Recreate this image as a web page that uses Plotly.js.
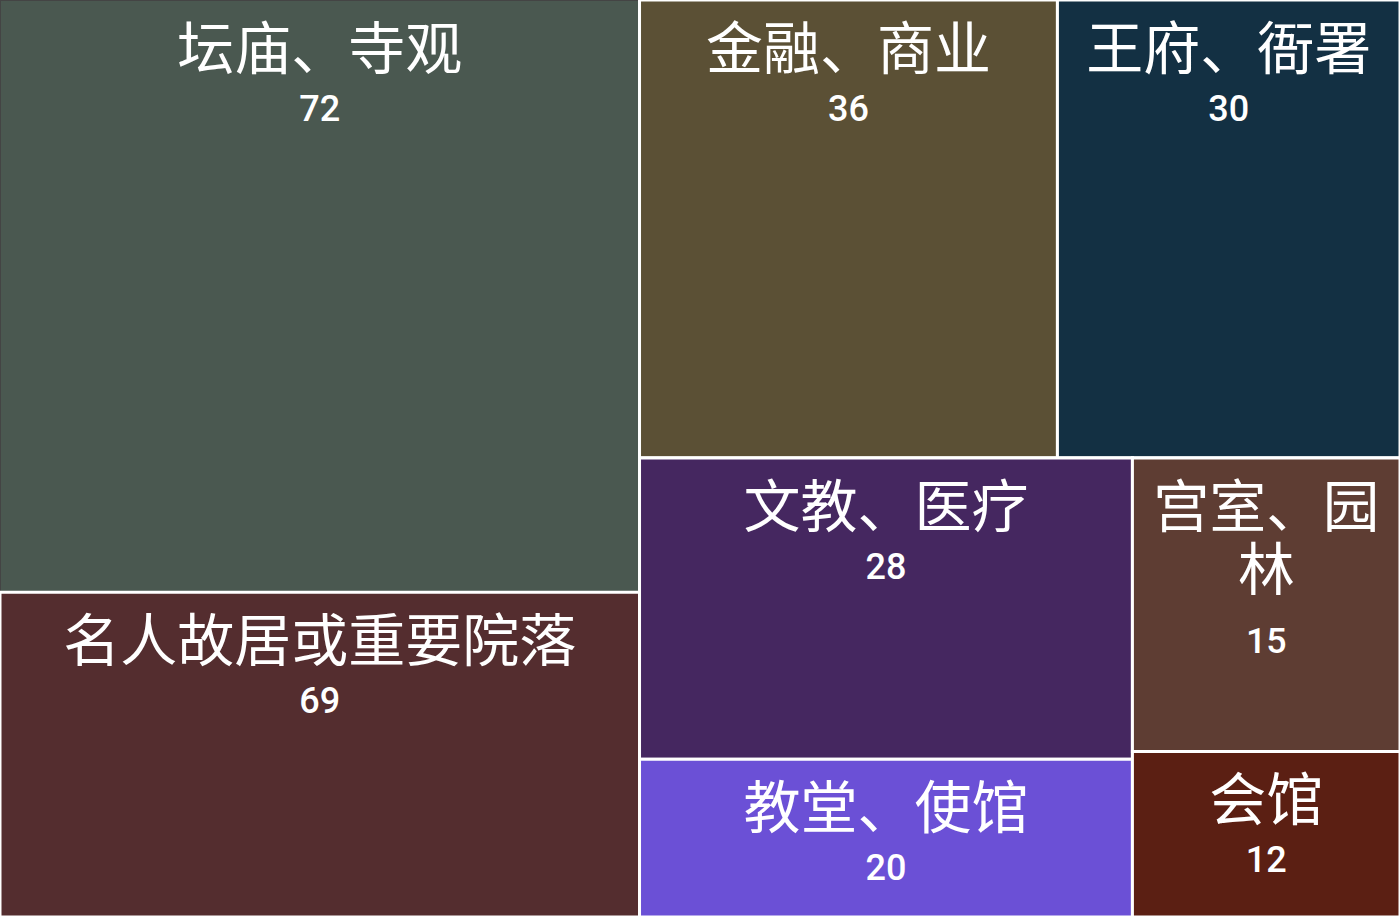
<!DOCTYPE html>
<html>
<head>
<meta charset="utf-8">
<script src="https://cdn.plot.ly/plotly-3.0.1.min.js"></script>
<style>
  html, body { margin: 0; padding: 0; background: #ffffff; }
  #chart { width: 1400px; height: 917px; }
</style>
</head>
<body>
<div id="chart"></div>
<script>
// categories and the numbers printed in each tile
const categories = ['坛庙、寺观', '名人故居或重要院落', '金融、商业', '王府、衙署', '文教、医疗', '教堂、使馆', '宫室、园林', '会馆'];
const counts = [72, 69, 36, 30, 28, 20, 15, 12];
// relative tile areas as they appear in the picture (thousand px²)
const tileArea = [378.8, 207.6, 191.4, 156.9, 148.5, 77.7, 78.5, 44.3];
// which group each tile sits in (the layout of the reference)
const groupOf = ['L', 'L', 'RT', 'RT', 'RBL', 'RBL', 'RBR', 'RBR'];
const tileColors = ['#4a5850', '#542d2f', '#5b5035', '#133043', '#452760', '#6b50d6', '#5e3d33', '#5b1f13'];

// invisible grouping nodes: left column, right top row, right bottom columns
const groupIds = ['L', 'R', 'RT', 'RB', 'RBL', 'RBR'];
const groupParents = ['', '', 'R', 'R', 'RB', 'RB'];

document.addEventListener('DOMContentLoaded', function() {
    const ids = groupIds.concat(categories);
    const parents = groupParents.concat(groupOf);
    const labels = groupIds.map(() => '').concat(categories);
    const values = groupIds.map(() => 0).concat(tileArea);
    const colors = groupIds.map(() => '#ffffff').concat(tileColors);

    // transparent spacer keeps the label a bit lower from the tile top
    const spacer = '<span style="font-size:71px;fill-opacity:0">&nbsp;</span>';
    const big = s => '<span style="font-size:57px">' + s + '</span>';
    const templates = groupIds.map(() => '').concat(categories.map((c, i) => {
        // the narrow tile wraps its label onto two lines
        const head = c === '宫室、园林'
            ? spacer + big('宫室、园') + spacer + '<br>' + big('林')
            : spacer + big(c) + spacer;
        return head + '<br><span style="font-size:36px;font-weight:500">' + counts[i] + '</span>';
    }));
    // line spacing follows the base size
    const baseSize = groupIds.map(() => 40).concat(categories.map(c => c === '宫室、园林' ? 49 : 40));

    const trace = {
        type: 'treemap',
        ids: ids, labels: labels, parents: parents, values: values,
        branchvalues: 'remainder',
        sort: false,
        tiling: { packing: 'slice-dice', pad: 0 },
        marker: {
            colors: colors,
            line: { color: '#ffffff', width: 3 },
            pad: { t: 0, l: 0, r: 0, b: 0 }
        },
        leaf: { opacity: 1 },
        pathbar: { visible: false },
        texttemplate: templates,
        textposition: 'top center',
        textfont: { family: 'Roboto, "Noto Sans CJK SC"', size: baseSize, color: '#ffffff' },
        insidetextfont: { family: 'Roboto, "Noto Sans CJK SC"', size: baseSize, color: '#ffffff' },
        hoverinfo: 'none'
    };

    const layout = {
        width: 1400, height: 917,
        margin: { l: 0, r: 0, t: 0, b: 0 },
        paper_bgcolor: '#ffffff'
    };

    Plotly.newPlot('chart', [trace], layout, { displayModeBar: false });
});
</script>
</body>
</html>
